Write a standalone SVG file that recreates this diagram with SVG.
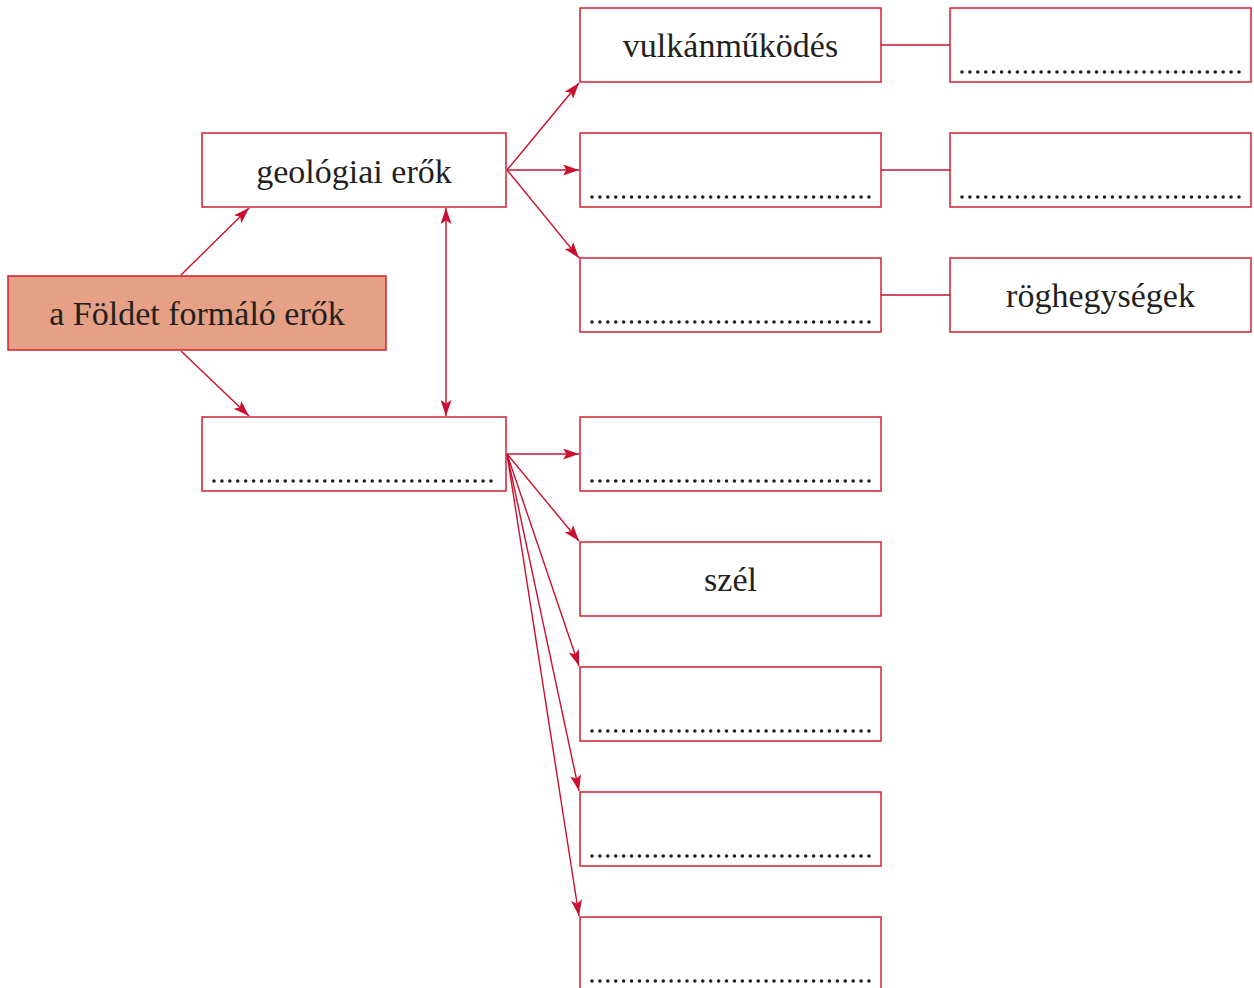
<svg xmlns="http://www.w3.org/2000/svg" width="1254" height="988" viewBox="0 0 1254 988">
<style>
.box{fill:#fff;stroke:#d0202e;stroke-width:1.5}
.root{fill:#e6a085;stroke:#d0202e;stroke-width:1.5}
.lbl{font-family:"Liberation Serif","Times New Roman",serif;font-size:34px;fill:#231f20;text-anchor:middle}
.dots{stroke:#231f20;stroke-width:3.6;stroke-linecap:round;stroke-dasharray:0 7.914}
.con{stroke:#c8102e;stroke-width:1.4;fill:none}
.arr{marker-end:url(#ah)}
</style>
<defs>
<marker id="ah" viewBox="0 0 16 11" refX="16" refY="5.5" markerWidth="16" markerHeight="11" markerUnits="userSpaceOnUse" orient="auto-start-reverse">
<path d="M0,0 L16,5.5 L0,11 L3.5,5.5 Z" fill="#c8102e"/>
</marker>
</defs>
<g id="connectors">
<line class="con arr" x1="181" y1="275" x2="249" y2="208"/>
<line class="con arr" x1="181" y1="351" x2="249" y2="416"/>
<line class="con arr" x1="446" y1="208" x2="446" y2="416" style="marker-start:url(#ah)"/>
<line class="con arr" x1="507" y1="170" x2="579" y2="83"/>
<line class="con arr" x1="507" y1="170" x2="579" y2="170"/>
<line class="con arr" x1="507" y1="170" x2="579" y2="258"/>
<line class="con arr" x1="507" y1="454" x2="579" y2="454"/>
<line class="con arr" x1="507" y1="454" x2="579" y2="541"/>
<line class="con arr" x1="507" y1="454" x2="579" y2="666"/>
<line class="con arr" x1="507" y1="454" x2="579" y2="791"/>
<line class="con arr" x1="507" y1="454" x2="579" y2="916"/>
<line class="con" x1="881" y1="45" x2="950" y2="45"/>
<line class="con" x1="881" y1="170" x2="950" y2="170"/>
<line class="con" x1="881" y1="295" x2="950" y2="295"/>
</g>
<g id="root"><rect class="root" x="8" y="276" width="378" height="74"/><text class="lbl" x="197" y="325">a Földet formáló erők</text></g>
<g id="geo"><rect class="box" x="202" y="133" width="304" height="74"/><text class="lbl" x="354" y="183">geológiai erők</text></g>
<g id="blank-left"><rect class="box" x="202" y="417" width="304" height="74"/><line class="dots" x1="214" y1="481" x2="494" y2="481"/></g>
<g id="vulkan"><rect class="box" x="580" y="8" width="301" height="74"/><text class="lbl" x="730.5" y="57">vulkánműködés</text></g>
<g id="c2r2"><rect class="box" x="580" y="133" width="301" height="74"/><line class="dots" x1="592" y1="197" x2="869" y2="197"/></g>
<g id="c2r3"><rect class="box" x="580" y="258" width="301" height="74"/><line class="dots" x1="592" y1="322" x2="869" y2="322"/></g>
<g id="c2r4"><rect class="box" x="580" y="417" width="301" height="74"/><line class="dots" x1="592" y1="481" x2="869" y2="481"/></g>
<g id="szel"><rect class="box" x="580" y="542" width="301" height="74"/><text class="lbl" x="730.5" y="591">szél</text></g>
<g id="c2r6"><rect class="box" x="580" y="667" width="301" height="74"/><line class="dots" x1="592" y1="731" x2="869" y2="731"/></g>
<g id="c2r7"><rect class="box" x="580" y="792" width="301" height="74"/><line class="dots" x1="592" y1="856" x2="869" y2="856"/></g>
<g id="c2r8"><rect class="box" x="580" y="917" width="301" height="74"/><line class="dots" x1="592" y1="981" x2="869" y2="981"/></g>
<g id="c3r1"><rect class="box" x="950" y="8" width="301" height="74"/><line class="dots" x1="962" y1="72" x2="1239" y2="72"/></g>
<g id="c3r2"><rect class="box" x="950" y="133" width="301" height="74"/><line class="dots" x1="962" y1="197" x2="1239" y2="197"/></g>
<g id="rog"><rect class="box" x="950" y="258" width="301" height="74"/><text class="lbl" x="1100.5" y="307">röghegységek</text></g>
</svg>
